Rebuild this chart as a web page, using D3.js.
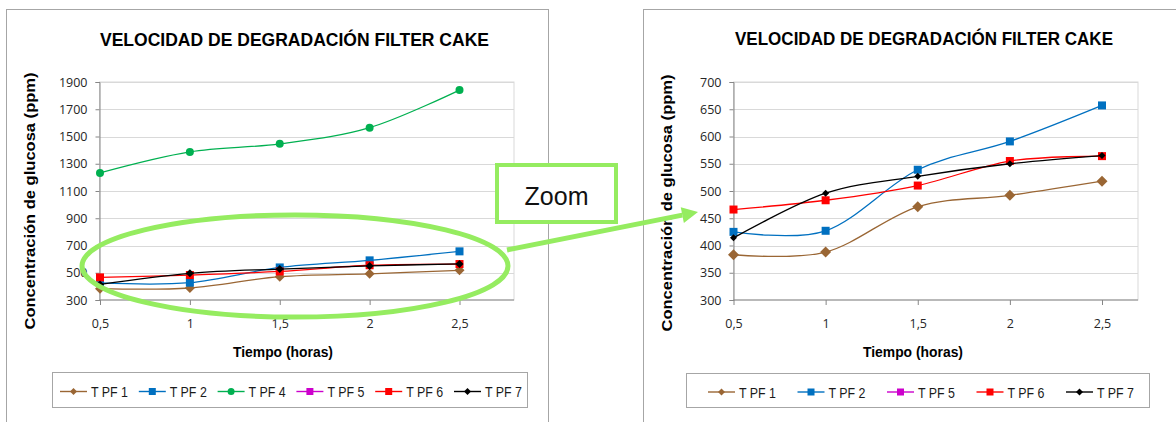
<!DOCTYPE html>
<html>
<head>
<meta charset="utf-8">
<script src="https://cdn.jsdelivr.net/npm/d3@7"></script>
<style>
  body { margin: 0; background: #fff; }
  svg { display: block; }
  text { font-family: "Liberation Sans", Arial, sans-serif; }
</style>
</head>
<body>
<svg id="fig" width="1176" height="422"></svg>
<script>
// ---- data -------------------------------------------------------------
const tiempo       = [0.5, 1, 1.5, 2, 2.5];
const tiempoLabels = ["0,5", "1", "1,5", "2", "2,5"];
const tpf1 = [383, 388, 471, 492, 518];
const tpf2 = [425, 427, 539, 591, 657];
const tpf4 = [1233, 1387, 1446, 1565, 1841];
const tpf5 = [];
const tpf6 = [466, 483, 510, 555, 564];
const tpf7 = [414, 496, 527, 550, 565];
const ticksGeneral = [300, 500, 700, 900, 1100, 1300, 1500, 1700, 1900];
const ticksZoom    = [300, 350, 400, 450, 500, 550, 600, 650, 700];
const titulo = "VELOCIDAD DE DEGRADACIÓN FILTER CAKE";
const ejeX = "Tiempo (horas)";
const ejeY = "Concentración de glucosa (ppm)";
const zoomLabel = "Zoom";

// ---- series styles ----------------------------------------------------
const estilos = {
  "T PF 1": { values: tpf1, color: "#9a6634", shape: "diamond" },
  "T PF 2": { values: tpf2, color: "#0070c0", shape: "square" },
  "T PF 4": { values: tpf4, color: "#00b050", shape: "circle" },
  "T PF 5": { values: tpf5, color: "#cc00cc", shape: "square" },
  "T PF 6": { values: tpf6, color: "#ff0000", shape: "square" },
  "T PF 7": { values: tpf7, color: "#000000", shape: "smallDiamond" }
};

const svg = d3.select("#fig");
const highlight = "#95ec60";

function marker(g, shape, x, y, color, s) {
  if (shape === "circle") {
    g.append("circle").attr("cx", x).attr("cy", y).attr("r", s.circle).attr("fill", color);
  } else if (shape === "square") {
    const h = s.square / 2;
    g.append("rect").attr("x", x - h).attr("y", y - h)
      .attr("width", s.square).attr("height", s.square).attr("fill", color);
  } else {
    const h = shape === "diamond" ? s.diamond : s.smallDiamond;
    g.append("path")
      .attr("d", `M${x},${y - h}L${x + h},${y}L${x},${y + h}L${x - h},${y}Z`)
      .attr("fill", color);
  }
}

function panel(cfg) {
  const g = svg.append("g");

  // outer chart frame
  g.append("rect")
    .attr("x", cfg.frame[0]).attr("y", cfg.frame[1])
    .attr("width", cfg.frame[2]).attr("height", cfg.frame[3])
    .attr("fill", "#fff").attr("stroke", "#a6a6a6").attr("stroke-width", 1);

  const x = d3.scaleLinear().domain([tiempo[0], tiempo[tiempo.length - 1]]).range(cfg.xRange);
  const y = d3.scaleLinear().domain(d3.extent(cfg.yTicks)).range([cfg.plot.bottom, cfg.plot.top]);

  // plot area border + gridlines
  g.append("rect")
    .attr("x", cfg.plot.left).attr("y", cfg.plot.top)
    .attr("width", cfg.plot.right - cfg.plot.left).attr("height", cfg.plot.bottom - cfg.plot.top)
    .attr("fill", "none").attr("stroke", "#d9d9d9");
  g.append("g").selectAll("line").data(cfg.yTicks.slice(1)).join("line")
    .attr("x1", cfg.plot.left).attr("x2", cfg.plot.right)
    .attr("y1", d => Math.round(y(d)) + 0.5).attr("y2", d => Math.round(y(d)) + 0.5)
    .attr("stroke", "#d9d9d9").attr("stroke-width", 1.2);

  // y axis
  const yAxis = g.append("g")
    .attr("transform", `translate(${cfg.plot.left},0)`)
    .call(d3.axisLeft(y).tickValues(cfg.yTicks).tickSize(4).tickPadding(8).tickFormat(d3.format("d")));
  yAxis.select(".domain").attr("stroke", "#868686");
  yAxis.selectAll(".tick line").attr("stroke", "#868686");
  yAxis.selectAll(".tick text")
    .attr("fill", "#262626").style("font-size", "12.5px").style("font-family", "'Open Sans', sans-serif");

  // x axis
  const xAxis = g.append("g")
    .attr("transform", `translate(0,${cfg.plot.bottom})`)
    .call(d3.axisBottom(x).tickValues(tiempo).tickSize(5).tickPadding(14)
      .tickFormat((d, i) => tiempoLabels[i]));
  xAxis.select(".domain").attr("d", `M${cfg.plot.left},0H${cfg.plot.right}`).attr("stroke", "#868686");
  xAxis.selectAll(".tick line").attr("stroke", "#868686");
  xAxis.selectAll(".tick text")
    .attr("fill", "#262626").style("font-size", "12.5px").style("font-family", "'Open Sans', sans-serif");

  // series
  const line = d3.line()
    .defined(d => d.v != null)
    .x(d => x(d.t)).y(d => y(d.v))
    .curve(d3.curveCardinal.tension(0));

  cfg.series.forEach(name => {
    const st = estilos[name];
    const pts = st.values.map((v, i) => ({ t: tiempo[i], v }));
    if (!pts.length) return;
    const sg = g.append("g");
    sg.append("path").attr("d", line(pts))
      .attr("fill", "none").attr("stroke", st.color).attr("stroke-width", 1.3);
    pts.forEach(p => marker(sg, st.shape, x(p.t), y(p.v), st.color, cfg.markers));
  });

  // titles
  g.append("text")
    .attr("x", cfg.titleX).attr("y", cfg.titleY)
    .attr("text-anchor", "middle").attr("font-weight", "bold").attr("font-size", 18.5)
    .attr("textLength", cfg.titleLen).attr("lengthAdjust", "spacingAndGlyphs")
    .attr("fill", "#000").text(titulo);

  g.append("text")
    .attr("x", cfg.xTitleX).attr("y", 357)
    .attr("text-anchor", "middle").attr("font-weight", "bold").attr("font-size", 15)
    .attr("textLength", 100).attr("lengthAdjust", "spacingAndGlyphs")
    .attr("fill", "#000").text(ejeX);

  g.append("text")
    .attr("transform", `translate(${cfg.yTitleX},${cfg.yTitleY}) rotate(-90)`)
    .attr("text-anchor", "middle").attr("font-weight", "bold").attr("font-size", 15)
    .attr("textLength", 257).attr("lengthAdjust", "spacingAndGlyphs")
    .attr("fill", "#000").text(ejeY);

  // legend
  const L = cfg.legend;
  g.append("rect")
    .attr("x", L.x).attr("y", L.y).attr("width", L.w).attr("height", L.h)
    .attr("fill", "#fff").attr("stroke", "#a6a6a6");
  cfg.legendItems.forEach((name, i) => {
    const st = estilos[name];
    const lx = L.firstLine + i * L.step;
    const cy = L.y + L.h / 2 + 1.5;
    const lg = g.append("g");
    lg.append("line").attr("x1", lx).attr("x2", lx + 27).attr("y1", cy).attr("y2", cy)
      .attr("stroke", st.color).attr("stroke-width", 1.4);
    marker(lg, st.shape, lx + 13.5, cy, st.color, cfg.legendMarkers);
    lg.append("text").attr("x", lx + 31).attr("y", cy + 5.5)
      .attr("font-size", 15).attr("textLength", 37).attr("lengthAdjust", "spacingAndGlyphs")
      .attr("fill", "#1a1a1a").text(name);
  });
}

// full-range chart
panel({
  frame: [6.5, 9.5, 542, 430],
  plot: { left: 99.5, right: 514, top: 82, bottom: 300 },
  xRange: [100, 459.5],
  yTicks: ticksGeneral,
  series: ["T PF 1", "T PF 2", "T PF 4", "T PF 5", "T PF 6", "T PF 7"],
  markers: { circle: 4, square: 8, diamond: 5, smallDiamond: 4 },
  titleX: 294.5, titleY: 46, titleLen: 389,
  xTitleX: 283, yTitleX: 35, yTitleY: 201,
  legend: { x: 52.5, y: 372.5, w: 475, h: 35, firstLine: 60, step: 78.8 },
  legendItems: ["T PF 1", "T PF 2", "T PF 4", "T PF 5", "T PF 6", "T PF 7"],
  legendMarkers: { circle: 3.5, square: 7, diamond: 3.5, smallDiamond: 3.5 }
});

// zoomed chart
panel({
  frame: [643.5, 9.5, 560, 430],
  plot: { left: 733.5, right: 1138, top: 82, bottom: 300 },
  xRange: [733.5, 1102],
  yTicks: ticksZoom,
  series: ["T PF 1", "T PF 2", "T PF 5", "T PF 6", "T PF 7"],
  markers: { circle: 4, square: 8, diamond: 5.5, smallDiamond: 3.5 },
  titleX: 924, titleY: 45, titleLen: 378,
  xTitleX: 913, yTitleX: 672, yTitleY: 203,
  legend: { x: 686.5, y: 373.5, w: 463, h: 34, firstLine: 708, step: 89.5 },
  legendItems: ["T PF 1", "T PF 2", "T PF 5", "T PF 6", "T PF 7"],
  legendMarkers: { circle: 3.5, square: 7, diamond: 3.5, smallDiamond: 3.5 }
});

// ---- annotation: ellipse, arrow and "Zoom" box ------------------------
const ann = svg.append("g");
ann.append("ellipse")
  .attr("cx", 295).attr("cy", 266).attr("rx", 213).attr("ry", 51)
  .attr("fill", "none").attr("stroke", highlight).attr("stroke-width", 5);

const a0 = [507, 250], a1 = [698, 212];
const ang = Math.atan2(a1[1] - a0[1], a1[0] - a0[0]);
const headLen = 16, headHalf = 8;
const base = [a1[0] - headLen * Math.cos(ang), a1[1] - headLen * Math.sin(ang)];
ann.append("line")
  .attr("x1", a0[0]).attr("y1", a0[1]).attr("x2", base[0]).attr("y2", base[1])
  .attr("stroke", highlight).attr("stroke-width", 5);
ann.append("path")
  .attr("d", `M${a1[0]},${a1[1]}` +
    `L${base[0] - headHalf * Math.sin(ang)},${base[1] + headHalf * Math.cos(ang)}` +
    `L${base[0] + headHalf * Math.sin(ang)},${base[1] - headHalf * Math.cos(ang)}Z`)
  .attr("fill", highlight);

ann.append("rect")
  .attr("x", 497).attr("y", 165).attr("width", 119).attr("height", 57)
  .attr("fill", "#fff").attr("stroke", highlight).attr("stroke-width", 4);
ann.append("text")
  .attr("x", 556.5).attr("y", 205).attr("text-anchor", "middle")
  .attr("font-size", 25).attr("fill", "#111").text(zoomLabel);
</script>
</body>
</html>
